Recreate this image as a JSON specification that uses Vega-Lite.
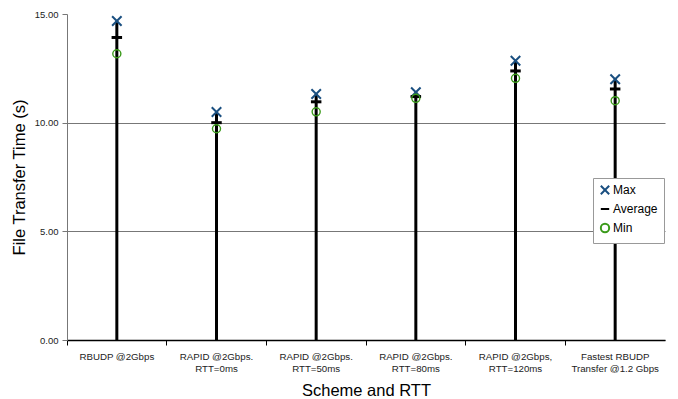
{
  "$schema": "https://vega.github.io/schema/vega-lite/v6.json",
  "autosize": "none",
  "width": 598,
  "height": 326,
  "padding": {"left": 67, "top": 14, "right": 13, "bottom": 59},
  "background": "white",
  "config": {
    "font": "Liberation Sans",
    "view": {"stroke": null}
  },
  "data": {
    "values": [
      {"scheme": "RBUDP @2Gbps", "series": "Max", "value": 14.68},
      {"scheme": "RBUDP @2Gbps", "series": "Average", "value": 13.92},
      {"scheme": "RBUDP @2Gbps", "series": "Min", "value": 13.17},
      {"scheme": "RAPID @2Gbps.|RTT=0ms", "series": "Max", "value": 10.49},
      {"scheme": "RAPID @2Gbps.|RTT=0ms", "series": "Average", "value": 10.0},
      {"scheme": "RAPID @2Gbps.|RTT=0ms", "series": "Min", "value": 9.72},
      {"scheme": "RAPID @2Gbps.|RTT=50ms", "series": "Max", "value": 11.32},
      {"scheme": "RAPID @2Gbps.|RTT=50ms", "series": "Average", "value": 10.96},
      {"scheme": "RAPID @2Gbps.|RTT=50ms", "series": "Min", "value": 10.5},
      {"scheme": "RAPID @2Gbps.|RTT=80ms", "series": "Max", "value": 11.4},
      {"scheme": "RAPID @2Gbps.|RTT=80ms", "series": "Average", "value": 11.2},
      {"scheme": "RAPID @2Gbps.|RTT=80ms", "series": "Min", "value": 11.12},
      {"scheme": "RAPID @2Gbps,|RTT=120ms", "series": "Max", "value": 12.85},
      {"scheme": "RAPID @2Gbps,|RTT=120ms", "series": "Average", "value": 12.38},
      {"scheme": "RAPID @2Gbps,|RTT=120ms", "series": "Min", "value": 12.04},
      {"scheme": "Fastest RBUDP|Transfer @1.2 Gbps", "series": "Max", "value": 12.0},
      {"scheme": "Fastest RBUDP|Transfer @1.2 Gbps", "series": "Average", "value": 11.55},
      {"scheme": "Fastest RBUDP|Transfer @1.2 Gbps", "series": "Min", "value": 11.01}
    ]
  },
  "encoding": {
    "x": {
      "field": "scheme",
      "type": "nominal",
      "sort": null,
      "scale": {"paddingInner": 0, "paddingOuter": 0},
      "axis": {
        "title": "Scheme and RTT",
        "titleFontSize": 16.5,
        "titleFontWeight": "normal",
        "titleColor": "#000",
        "titlePadding": 10,
        "labelAngle": 0,
        "labelFontSize": 9.7,
        "labelColor": "#222",
        "labelExpr": "split(datum.label, '|')",
        "labelLineHeight": 12,
        "labelPadding": 6,
        "bandPosition": 0,
        "tickSize": 5,
        "tickColor": "#000",
        "domainColor": "#000",
        "domainWidth": 1.5,
        "grid": false
      }
    },
    "y": {
      "field": "value",
      "type": "quantitative",
      "scale": {"domain": [0, 15], "nice": false},
      "axis": {
        "title": "File Transfer Time (s)",
        "titleFontSize": 16.5,
        "titleFontWeight": "normal",
        "titleColor": "#000",
        "titlePadding": 7,
        "values": [0, 5, 10, 15],
        "format": ".2f",
        "labelFontSize": 9.5,
        "labelColor": "#222",
        "labelPadding": 4,
        "tickSize": 5,
        "tickColor": "#777",
        "domainColor": "#777",
        "grid": true,
        "gridColor": "#777",
        "gridOpacity": {"condition": {"test": "datum.value == 15", "value": 0}, "value": 1}
      }
    },
    "color": {
      "field": "series",
      "type": "nominal",
      "scale": {"domain": ["Max", "Average", "Min"], "range": ["#1a4f80", "#000000", "#3a9a1a"]},
      "legend": {
        "title": null,
        "orient": "none",
        "legendX": 526,
        "legendY": 164,
        "strokeColor": "#999",
        "fillColor": "white",
        "padding": 6,
        "rowPadding": 4,
        "labelFontSize": 12,
        "labelColor": "#000",
        "symbolSize": 70,
        "symbolStrokeWidth": 2,
        "symbolOffset": 0,
        "labelOffset": 2
      }
    },
    "shape": {
      "field": "series",
      "type": "nominal",
      "scale": {"domain": ["Max", "Average", "Min"], "range": ["M-1,-1L1,1M-1,1L1,-1", "stroke", "circle"]}
    }
  },
  "layer": [
    {
      "transform": [{"filter": "datum.series == 'Max'"}],
      "mark": {"type": "rule", "color": "#000", "strokeWidth": 3},
      "encoding": {
        "color": {"value": "#000"},
        "shape": null,
        "y2": {"datum": 0}
      }
    },
    {
      "transform": [{"filter": "datum.series == 'Max'"}],
      "mark": {"type": "point", "filled": false, "opacity": 1, "size": 90, "strokeWidth": 2}
    },
    {
      "transform": [{"filter": "datum.series == 'Average'"}],
      "mark": {"type": "point", "filled": false, "opacity": 1, "size": 110, "strokeWidth": 3}
    },
    {
      "transform": [{"filter": "datum.series == 'Min'"}],
      "mark": {"type": "point", "filled": false, "opacity": 1, "size": 65, "strokeWidth": 1.4}
    }
  ]
}
